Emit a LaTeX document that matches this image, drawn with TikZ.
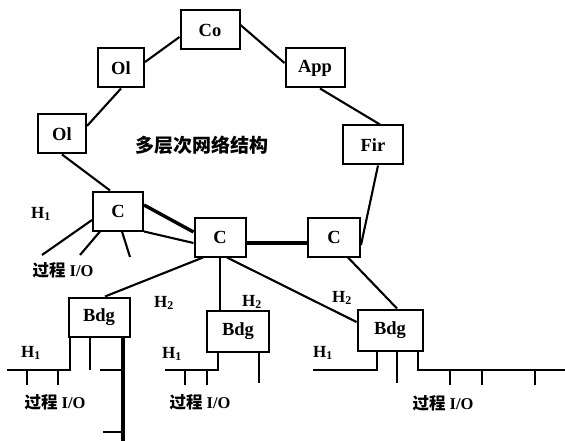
\documentclass[tikz,border=0pt]{standalone}
\usepackage{fontspec}
\setmainfont{Liberation Serif}
\newfontfamily\cjk{Noto Sans CJK SC}
\begin{document}
\begin{tikzpicture}[x=1pt,y=-1pt,
  box/.style={draw,line width=2pt,minimum width=#1,minimum height=39pt,inner sep=0pt,font=\fontsize{18.5}{18.5}\selectfont\bfseries},
  box/.default=50pt,
  link/.style={line width=2.1pt},
  heavy/.style={line width=3.4pt},
  lab/.style={font=\fontsize{17}{17}\selectfont\bfseries,inner sep=0pt},
  io/.style={font=\fontsize{16.5}{16.5}\selectfont\bfseries,inner sep=0pt}]
\useasboundingbox (0,0) rectangle (565,441);
% nodes
\node[box=59pt] (co) at (210,30) {Co};
\node[box=46pt] (ol1) at (121,68) {Ol};
\node[box=59pt] (app) at (315,68) {App};
\node[box=48pt] (ol2) at (62,134) {Ol};
\node[box=60pt] (fir) at (373,145) {Fir};
\node[box=50pt] (c1) at (118,211) {C};
\node[box=51pt] (c2) at (220,237) {C};
\node[box=52pt] (c3) at (334,237) {C};
\node[box=61pt] (bdg1) at (99,317) {Bdg};
\node[box=62pt,minimum height=41pt] (bdg2) at (238,331) {Bdg};
\node[box=65pt,minimum height=41pt] (bdg3) at (390,330) {Bdg};
\node[font=\cjk\fontsize{19}{19}\selectfont\bfseries] (title) at (202,145) {多层次网络结构};
% ring
\draw[link] ([yshift=-7pt]co.west) -- ([yshift=6pt]ol1.east);
\draw[link] (ol1.south) -- ([yshift=8pt]ol2.east);
\draw[link] ([yshift=5pt]co.east) -- ([yshift=5pt]app.west);
\draw[link] ([xshift=5pt]app.south) -- ([xshift=7pt]fir.north);
\draw[link] (ol2.south) -- ([xshift=-8pt]c1.north);
\draw[link] ([xshift=5pt]fir.south) -- ([yshift=-8pt]c3.east);
\draw[heavy] ([yshift=6pt]c1.east) -- ([yshift=5pt]c2.west);
\draw[link] (c1.south east) -- ([yshift=-6pt]c2.west);
\draw[heavy] ([yshift=-6pt]c2.east) -- ([yshift=-6pt]c3.west);
% to bridges
\draw[link] ([xshift=-17pt]c2.south) -- ([xshift=6pt]bdg1.north);
\draw[link] (c2.south) -- (c2.south |- bdg2.north);
\draw[link] ([xshift=7pt]c2.south) -- ([yshift=8pt]bdg3.west);
\draw[link] ([xshift=14pt]c3.south) -- ([xshift=7pt]bdg3.north);
% c1 I/O legs
\coordinate (l1) at (42,255);
\coordinate (l2) at (80,255);
\coordinate (l3) at (130,257);
\draw[link] ([yshift=-9pt]c1.west) -- (l1);
\draw[link] ([xshift=-18pt]c1.south) -- (l2);
\draw[link] ([xshift=4pt]c1.south) -- (l3);
% labels
\node[lab] (h1a) at (41,214) {H\textsubscript{1}};
\node[io] (ioa) at (63,270) {{\cjk 过程} I/O};
\node[lab] (h2a) at (164,303) {H\textsubscript{2}};
\node[lab] (h2b) at (252,302) {H\textsubscript{2}};
\node[lab] (h2c) at (342,298) {H\textsubscript{2}};
\node[lab] (h1b) at (31,353) {H\textsubscript{1}};
\node[lab] (h1c) at (172,354) {H\textsubscript{1}};
\node[lab] (h1d) at (323,353) {H\textsubscript{1}};
\node[io] (iob) at (55,402) {{\cjk 过程} I/O};
\node[io] (ioc) at (200,402) {{\cjk 过程} I/O};
\node[io] (iod) at (443,403) {{\cjk 过程} I/O};
% bdg1 buses
\coordinate (b1a) at (7,370);
\draw[link] (b1a) -- (70,370) -- (70,0 |- bdg1.south);
\coordinate (t1) at (27,370); \coordinate (t2) at (58,370);
\draw[link] (t1) -- ++(0,15);
\draw[link] (t2) -- ++(0,15);
\draw[link] (90,0 |- bdg1.south) -- (90,370);
\coordinate (b1end) at (123,441);
\draw[heavy] (123,0 |- bdg1.south) -- (b1end);
\coordinate (s1) at (100,370); \coordinate (s2) at (103,432);
\draw[link] (s1) -- (123,370);
\draw[link] (s2) -- (123,432);
% bdg2 buses
\coordinate (b2a) at (165,370);
\draw[link] (b2a) -- (218,370) -- (218,0 |- bdg2.south);
\coordinate (t3) at (185,370); \coordinate (t4) at (207,370);
\draw[link] (t3) -- ++(0,15);
\draw[link] (t4) -- ++(0,15);
\coordinate (v2) at (259,383);
\draw[link] (259,0 |- bdg2.south) -- (v2);
% bdg3 buses
\coordinate (b3a) at (313,370);
\draw[link] (b3a) -- (377,370) -- (377,0 |- bdg3.south);
\coordinate (v3) at (397,383);
\draw[link] (397,0 |- bdg3.south) -- (v3);
\coordinate (b3b) at (565,370);
\draw[link] (418,0 |- bdg3.south) -- (418,370) -- (b3b);
\coordinate (t5) at (450,370); \coordinate (t6) at (482,370); \coordinate (t7) at (535,370);
\draw[link] (t5) -- ++(0,15);
\draw[link] (t6) -- ++(0,15);
\draw[link] (t7) -- ++(0,15);
\end{tikzpicture}
\end{document}
